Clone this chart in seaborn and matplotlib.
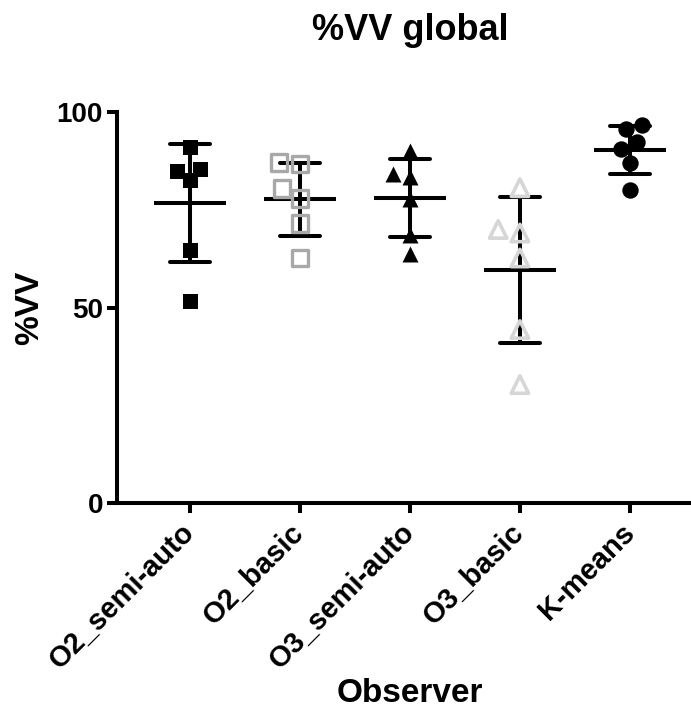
import numpy as np
import pandas as pd
import matplotlib
matplotlib.use("Agg")
import matplotlib.pyplot as plt
import seaborn as sns

# %VV values per observer / method (6 cases each)
observers = ['O2_semi-auto', 'O2_basic', 'O3_semi-auto', 'O3_basic', 'K-means']
o2_semi = [91.0, 85.6, 84.9, 82.6, 64.7, 51.8]
o2_basic = [87.1, 86.7, 80.5, 77.9, 71.5, 62.7]
o3_semi = [90.1, 84.1, 83.5, 77.9, 68.7, 63.8]
o3_basic = [80.7, 70.0, 69.1, 62.7, 44.4, 30.3]
kmeans = [95.6, 96.7, 90.7, 92.4, 87.1, 80.1]
y_ticks = [0, 50, 100]

df = pd.DataFrame({
    'Observer': np.repeat(observers, 6),
    'VV': o2_semi + o2_basic + o3_semi + o3_basic + kmeans,
})

sns.set_style("white")
plt.rcParams['font.family'] = ['Liberation Sans', 'DejaVu Sans']
plt.rcParams['font.weight'] = 'bold'
plt.rcParams['text.color'] = 'black'
plt.rcParams['axes.labelcolor'] = 'black'
plt.rcParams['xtick.color'] = 'black'
plt.rcParams['ytick.color'] = 'black'
plt.rcParams['axes.edgecolor'] = 'black'

fig = plt.figure(figsize=(6.91, 7.15), dpi=100)
ax = fig.add_axes([0.169, 0.2965, 0.831, 0.5465])

# marker style per group: (marker, size, face, edge, edge width)
styles = {
    'O2_semi-auto': ('s', 10.8, 'black', 'black', 0),
    'O2_basic': ('s', 11.8, 'none', '#a8a8a8', 2.4),
    'O3_semi-auto': ('^', 11.5, 'black', 'black', 0),
    'O3_basic': ('^', 12.5, 'none', '#d6d6d6', 2.6),
    'K-means': ('o', 11.8, 'black', 'black', 0),
}

# mean +/- SD
sns.pointplot(data=df, x='Observer', y='VV', order=observers, errorbar='sd',
              capsize=0.36, linestyle='none', marker='_', markersize=52,
              markeredgewidth=2.9, color='black',
              err_kws={'linewidth': 2.9, 'solid_capstyle': 'round'}, ax=ax)

for obs in observers:
    mk, sz, fc, ec, lw = styles[obs]
    n_before = len(ax.collections)
    sns.swarmplot(data=df[df['Observer'] == obs], x='Observer', y='VV',
                  order=observers, marker=mk, size=sz, color='black',
                  linewidth=lw, ax=ax, zorder=5)
    # swarmplot adds one collection per category (empty ones too)
    for pts in ax.collections[n_before:]:
        pts.set_facecolor(fc)
        pts.set_edgecolor(ec)
        pts.set_linewidth(lw)

ax.set_xlim(-0.664, 4.555)
ax.set_ylim(0, 100)
ax.set_yticks(y_ticks)
ax.set_yticklabels([str(t) for t in y_ticks])
sns.despine(ax=ax)
for s in ['left', 'bottom']:
    ax.spines[s].set_linewidth(2.9)
    ax.spines[s].set_capstyle('projecting')
ax.tick_params(axis='both', which='major', length=7, width=2.9, direction='out',
               labelsize=20, pad=3, bottom=True, left=True)
ax.tick_params(axis='x', labelsize=21, pad=11)
ax.set_xticks(range(len(observers)))
ax.set_xticklabels(observers, rotation=45, ha='right', va='center',
                   rotation_mode='anchor', fontweight='bold')
for lab in ax.get_yticklabels():
    lab.set_fontweight('bold')

ax.set_ylabel('%VV', fontsize=24, fontweight='bold', labelpad=8.5)
ax.set_xlabel('Observer', fontsize=24, fontweight='bold', labelpad=2.5)
ax.xaxis.label.set_x(0.511)
fig.text(0.593, 0.957, '%VV global', ha='center', va='center',
         fontsize=26, fontweight='bold')

fig.savefig('out.png', dpi=100)
